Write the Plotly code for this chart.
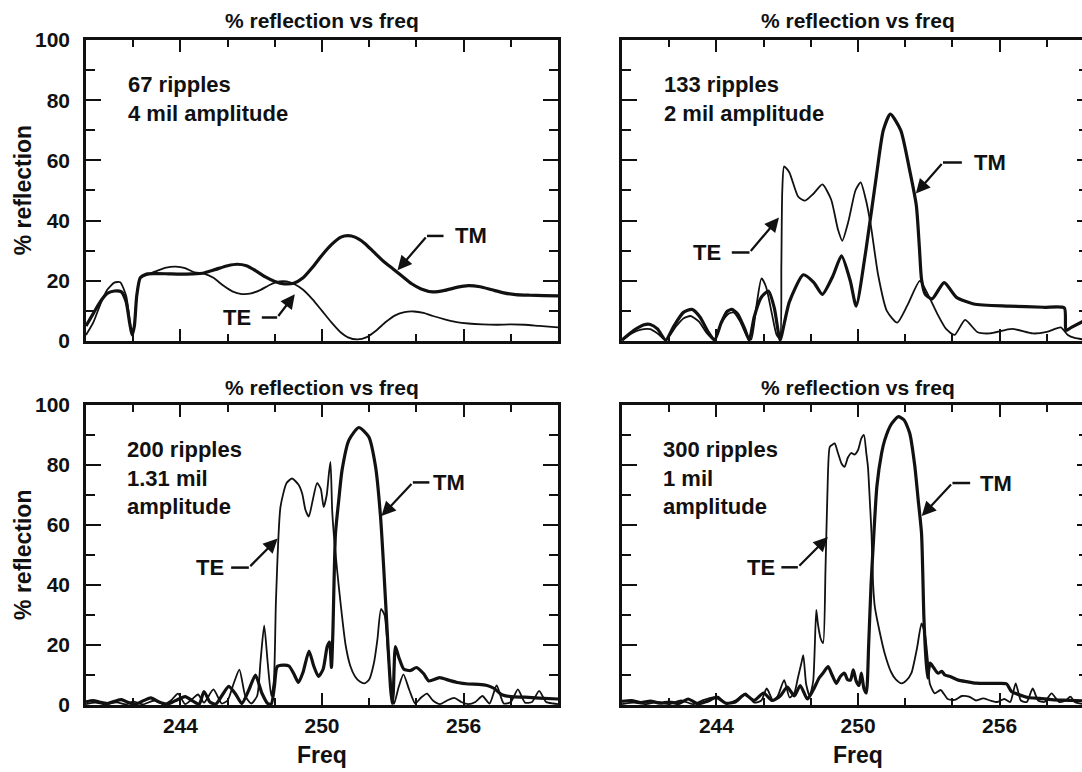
import plotly.graph_objects as go

# ---------------- data ----------------
# Panel 1: 67 ripples, 4 mil amplitude
p1_tm_x = [240.0, 240.3, 240.6, 240.9, 241.2, 241.5, 241.7, 241.85, 241.95, 242.05, 242.15, 242.3, 242.6,
           243.0, 243.5, 244.0, 244.5, 245.0, 245.5, 246.0, 246.4, 246.8, 247.2, 247.6, 248.0, 248.4,
           248.8, 249.2, 249.6, 250.0, 250.4, 250.8, 251.1, 251.4, 251.8, 252.2, 252.6, 253.0, 253.4,
           253.8, 254.2, 254.7, 255.2, 255.7, 256.2, 256.7, 257.2, 257.7, 258.2, 258.8, 259.4, 260.0]
p1_tm_y = [5, 9, 13, 15.8, 16.6, 16.3, 13, 6, 2, 5, 15, 21, 22.3,
           22.4, 22.3, 22.2, 22.3, 22.6, 23.8, 25, 25.5, 25, 23.3, 21.3, 19.8, 19,
           19.2, 21, 24.5, 28.5, 32, 34.5, 35, 34.5, 32.5, 29.5, 26.5, 24, 21.5,
           19, 17.3, 16.3, 16.8, 17.8, 18.4, 18, 17, 16, 15.4, 15.2, 15.1, 15]
p1_te_x = [240.0, 240.3, 240.6, 240.9, 241.2, 241.45, 241.7, 241.85, 241.95, 242.05, 242.15, 242.3, 242.6,
           243.0, 243.4, 243.8, 244.2, 244.6, 245.0, 245.4, 245.8, 246.2, 246.6, 247.0, 247.4, 247.8,
           248.2, 248.5, 248.8, 249.2, 249.6, 250.0, 250.4, 250.8, 251.1, 251.5, 251.9, 252.3, 252.7,
           253.1, 253.5, 253.9, 254.3, 254.7, 255.2, 255.7, 256.2, 256.8, 257.4, 258.0, 258.6, 259.2, 260.0]
p1_te_y = [2, 6, 12, 17, 19.4, 19.5, 15, 7, 2, 5, 15, 21, 22,
           23.3, 24.4, 24.7, 24.2, 22.8, 22.4, 21, 18.5, 16.5, 15.6, 15.8, 17, 18.7,
           19.8, 19.8, 19, 17, 13.8, 10, 6.2, 2.8, 1.2, 0.5, 1.3, 3.5, 6.3,
           8.5, 9.6, 9.8, 9.3, 8.3, 7.2, 6.3, 5.8, 5.5, 5.4, 5.5, 5.4, 5, 4.5]

# Panel 2: 133 ripples, 2 mil amplitude
p2_tm_x = [240.0, 240.5, 240.9, 241.2, 241.5, 241.85, 242.2, 242.6, 242.96, 243.3, 243.65, 243.92,
           244.2, 244.45, 244.65, 244.9, 245.2, 245.39, 245.6, 245.9, 246.2, 246.45, 246.62, 246.7,
           247.09, 247.68, 248.12, 248.49, 248.93, 249.3, 249.67,
           249.92, 250.33, 250.78, 251.07, 251.37, 251.81, 252.18, 252.47, 252.6, 252.69, 252.85, 253.14,
           253.65, 254.17, 254.9, 256.38, 257.86, 258.74, 258.81, 259.04, 259.55]
p2_tm_y = [0.3, 3.5, 5.3, 5.5, 4.0, 0.3, 5.0, 9.5, 10.5, 8.0, 3.0, 0.3,
           6.0, 9.8, 10.5, 9.0, 4.0, 0.3, 8.0, 14.5, 16.6, 11.0, 3.0, 0.3,
           13, 22, 19.5, 15.5, 21.5, 28.3, 20,
           11.6, 30, 55, 70, 75.4, 70, 57, 45, 31, 20.5, 15.5, 14,
           19.4, 14.5, 12.3, 11.6, 11.2, 11, 3.5, 4.5, 6.6]
p2_te_x = [240.0, 240.4, 240.8, 241.2, 241.55, 241.85, 242.3, 242.6, 242.9, 243.25, 243.6, 243.92,
           244.2, 244.5, 244.73, 245.0, 245.3, 245.47, 245.7, 245.91, 246.1, 246.35, 246.55, 246.69,
           246.75, 246.79, 246.87, 247.09, 247.46, 247.75, 248.12, 248.49,
           248.86, 249.15, 249.33, 249.6, 249.89, 250.11, 250.33, 250.55, 250.85, 251.22, 251.66, 252.1,
           252.62, 252.99, 253.36, 253.73, 254.09, 254.54, 255.05, 255.57, 256.53, 257.41, 258.0, 258.59,
           258.89, 259.18, 259.55]
p2_te_y = [0.3, 2.5, 3.8, 3.9, 2.2, 0.3, 5.0, 7.5, 8.3, 6.5, 2.5, 0.3,
           6.0, 9.0, 9.5, 6.5, 1.5, 0.5, 12.0, 20.8, 18.0, 9.0, 2.0, 0.8,
           25, 50, 58, 56, 48, 46.6, 49, 52,
           47, 37, 33.3, 40, 50, 52.7, 47, 38, 22, 10, 6.1, 12,
           20, 15, 9, 4, 2, 7, 3, 2.5, 4, 2.5, 3, 4.5,
           2, 1, 0.5]

# Panel 3: 200 ripples, 1.31 mil amplitude
p3_tm_x = [240.0, 240.3, 240.6, 240.9, 241.2, 241.5, 241.8, 242.1, 242.45, 242.75, 243.1, 243.45, 243.8,
           244.2, 244.55, 244.8, 245.0, 245.25, 245.5, 245.75, 246.05, 246.35, 246.6, 246.9, 247.18,
           247.45, 247.7, 247.85, 247.98, 248.1, 248.35, 248.6, 248.8, 249.0, 249.2, 249.45, 249.65,
           249.85, 250.05, 250.22, 250.32, 250.4, 250.46, 250.57, 250.71, 250.85, 251.14, 251.56, 251.98,
           252.27, 252.48, 252.62, 252.76, 252.9, 252.97, 253.02, 253.11, 253.25, 253.47, 253.75, 254.0,
           254.3, 254.53, 254.98, 255.4, 255.74, 256.2, 256.64, 257.0, 257.3, 257.6, 258.0, 258.6,
           259.2, 260.0]
p3_tm_y = [1.0, 1.5, 0.9, 0.5, 1.2, 1.8, 0.8, 0.3, 1.5, 2.4, 1.0, 0.3, 1.5,
           2.8, 1.2, 0.3, 4.5, 1.0, 0.3, 3.0, 6.2, 3.5, 0.5, 5.0, 10.0,
           4.0, 0.5, 0.3, 6.0, 12.8, 13.3, 13.0, 10.5, 7.5, 11.0, 18.0, 13.0,
           9.5, 12.0, 19.5, 21.0, 12.5, 24.0, 57.0, 68.3, 78.3, 88.3, 92.5, 89.4,
           79.4, 62.8, 45.0, 25.0, 6.0, 0.5, 4.0, 19.5, 16.0, 11.9, 11.5, 12.5,
           10.5, 8.0, 9.1, 8.2, 7.5, 7.0, 6.9, 6.5, 5.5, 3.5, 2.8, 2.6,
           2.3, 2.0]
p3_te_x = [240.0, 240.4, 240.8, 241.3, 241.7, 242.0, 242.4, 242.9, 243.3, 243.6, 243.9, 244.2, 244.5,
           244.75, 245.0, 245.4, 245.75, 246.0, 246.25, 246.5, 246.75, 247.0, 247.25, 247.4, 247.55,
           247.7, 247.85, 247.96, 248.05, 248.24, 248.5, 248.73, 249.0, 249.16, 249.3, 249.44, 249.6,
           249.79, 249.95, 250.07, 250.2, 250.29, 250.36, 250.43, 250.5, 250.64, 250.8, 251.0, 251.2,
           251.4, 251.6, 251.8, 252.0, 252.2, 252.35, 252.5, 252.65, 252.8, 252.95, 253.05, 253.25,
           253.45, 253.7, 253.95, 254.2, 254.45, 254.7, 255.0, 255.3, 255.6, 255.9, 256.2, 256.5,
           256.8, 257.1, 257.4, 257.7, 258.0, 258.3, 258.6, 258.9, 259.2, 259.5, 259.8, 260.0]
p3_te_y = [0.3, 0.8, 0.2, 0.9, 0.2, 1.2, 0.2, 1.5, 0.2, 1.5, 3.8, 0.3, 2.0,
           3.5, 0.8, 5.2, 0.5, 1.5, 7.0, 11.8, 3.0, 0.5, 3.0, 15.0, 26.5,
           14.0, 3.0, 8.0, 35.0, 66.0, 74.0, 75.5, 73.5, 70.5, 65.0, 62.8, 68.0,
           74.0, 72.0, 66.0, 70.0, 77.0, 81.0, 65.0, 57.0, 45.0, 33.0, 20.0, 13.0,
           9.5, 7.8, 7.2, 8.5, 14.0, 22.0, 32.0, 30.0, 17.0, 5.0, 0.3, 6.0,
           10.2, 5.0, 0.5, 2.5, 3.8, 1.5, 0.3, 1.5, 2.4, 1.0, 0.3, 1.0,
           3.0, 0.5, 6.5, 0.5, 1.0, 5.2, 0.8, 1.0, 4.7, 1.0, 0.5, 0.3]

# Panel 4: 300 ripples, 1 mil amplitude
p4_tm_x = [240.0, 240.4, 240.8, 241.2, 241.6, 242.0, 242.4, 242.8, 243.2, 243.6, 244.0, 244.4, 244.8,
           245.2, 245.6, 246.0, 246.35, 246.7, 247.0, 247.3, 247.55, 247.85, 248.1, 248.35, 248.55,
           248.73, 248.9, 249.08, 249.25, 249.43, 249.55, 249.68, 249.8, 249.92, 250.04, 250.14, 250.25,
           250.35, 250.45, 250.55, 250.64, 250.8, 251.0, 251.13, 251.4, 251.7, 251.95, 252.19, 252.4,
           252.55, 252.69, 252.79, 252.88, 252.95, 253.0, 253.06, 253.2, 253.39, 253.55, 253.68, 253.9,
           254.25, 254.6, 255.0, 255.5, 256.0, 256.3, 256.5, 256.8, 257.2, 257.7, 258.2, 258.7,
           259.2, 259.55]
p4_tm_y = [1.2, 1.5, 0.8, 1.3, 0.6, 1.0, 0.5, 2.0, 0.4, 1.2, 2.5, 0.6, 1.0,
           3.5, 1.5, 4.0, 1.5, 3.0, 6.0, 3.0, 6.5, 2.0, 5.0, 9.0, 11.0,
           12.8, 10.0, 7.2, 9.5, 10.6, 8.5, 8.3, 11.7, 8.0, 6.5, 10.6, 5.5,
           4.0, 20.0, 40.0, 52.8, 73.0, 84.0, 88.3, 93.5, 96.1, 95.0, 90.6, 80.0,
           68.3, 57.2, 29.4, 15.0, 9.0, 12.0, 14.0, 12.5, 10.6, 11.2, 10.0, 9.5,
           8.3, 7.8, 7.3, 7.2, 7.2, 7.0, 4.5, 3.5, 2.5, 2.2, 1.8, 1.6,
           1.5, 1.4]
p4_te_x = [240.0, 240.5, 241.0, 241.5, 242.0, 242.5, 243.0, 243.5, 244.06, 244.4, 244.8, 245.24, 245.6,
           245.9, 246.13, 246.4, 246.6, 246.87, 247.1, 247.3, 247.45, 247.6, 247.68, 247.8, 247.95,
           248.1, 248.23, 248.3, 248.42, 248.52, 248.62, 248.7, 248.8, 248.9, 249.01, 249.15, 249.3,
           249.43, 249.57, 249.71, 249.85, 250.0, 250.14, 250.25, 250.35, 250.42, 250.5, 250.57, 250.64,
           250.71, 250.9, 251.13, 251.4, 251.6, 251.84, 252.05, 252.26, 252.5, 252.69, 252.83, 252.97,
           253.04, 253.25, 253.5, 253.8, 254.1, 254.4, 254.7, 255.0, 255.3, 255.6, 255.9, 256.2,
           256.45, 256.68, 256.9, 257.15, 257.4, 257.63, 257.9, 258.2, 258.52, 258.8, 259.0, 259.18,
           259.4, 259.55]
p4_te_y = [0.3, 0.8, 0.3, 1.0, 0.3, 1.5, 0.3, 1.8, 2.8, 0.5, 1.5, 3.9, 0.8,
           1.5, 5.5, 1.5, 3.0, 8.3, 2.5, 4.0, 9.0, 14.0, 16.6, 7.0, 3.0,
           8.0, 31.7, 27.0, 22.0, 20.6, 45.0, 70.0, 86.0, 86.7, 87.2, 84.0, 80.5,
           79.4, 82.5, 84.0, 83.5, 85.0, 88.9, 90.0, 84.0, 79.4, 68.0, 57.2, 40.0,
           32.8, 25.0, 17.2, 11.0, 8.5, 7.2, 8.2, 10.6, 19.0, 27.2, 23.9, 13.9,
           7.2, 3.9, 5.0, 2.0, 1.7, 3.0, 2.8, 1.5, 2.2, 1.5, 1.0, 2.0,
           1.0, 7.2, 1.5, 1.0, 5.5, 1.5, 1.0, 3.9, 1.0, 1.5, 2.8, 1.0,
           0.5, 0.3]

panel_notes = ["67 ripples<br>4 mil amplitude",
               "133 ripples<br>2 mil amplitude",
               "200 ripples<br>1.31 mil<br>amplitude",
               "300 ripples<br>1 mil<br>amplitude"]
panel_title = "% reflection vs freq"
y_ticks = [0, 20, 40, 60, 80, 100]
x_ticks = [244, 250, 256]

# ---------------- figure ----------------
FONT = "Liberation Sans, Arial, Helvetica, sans-serif"
INK = "#111111"
fig = go.Figure()

panels = [
    (p1_tm_x, p1_tm_y, p1_te_x, p1_te_y, "x", "y"),
    (p2_tm_x, p2_tm_y, p2_te_x, p2_te_y, "x2", "y2"),
    (p3_tm_x, p3_tm_y, p3_te_x, p3_te_y, "x3", "y3"),
    (p4_tm_x, p4_tm_y, p4_te_x, p4_te_y, "x4", "y4"),
]
for tmx, tmy, tex, tey, xa, ya in panels:
    fig.add_trace(go.Scatter(x=tex, y=tey, mode="lines", xaxis=xa, yaxis=ya, name="TE",
                             line=dict(color=INK, width=1.8, shape="spline", smoothing=0.6),
                             showlegend=False, hoverinfo="skip"))
    fig.add_trace(go.Scatter(x=tmx, y=tmy, mode="lines", xaxis=xa, yaxis=ya, name="TM",
                             line=dict(color=INK, width=3.2, shape="spline", smoothing=0.6),
                             showlegend=False, hoverinfo="skip"))

# dummy traces so the right-edge tick overlays exist
fig.add_trace(go.Scatter(x=[None], y=[None], xaxis="x2", yaxis="y5", showlegend=False))
fig.add_trace(go.Scatter(x=[None], y=[None], xaxis="x4", yaxis="y6", showlegend=False))

XL = [0.0, 0.4739]
XR = [0.5382, 1.0]
YT = [0.5474, 1.0]
YB = [0.0, 0.4511]

tickfont = dict(family=FONT, size=21, color=INK, weight="bold")


def xax(domain, anchor, rng, labels):
    return dict(domain=domain, anchor=anchor, range=rng, showgrid=False, zeroline=False,
                showline=True, linecolor=INK, linewidth=2.5, mirror="ticks",
                ticks="inside", ticklen=12, tickwidth=2, tickcolor=INK,
                tickmode="array", tickvals=x_ticks, showticklabels=labels,
                tickfont=tickfont, ticklabelstandoff=0,
                minor=dict(ticks="inside", ticklen=7, tickwidth=1.5, tickcolor=INK,
                           tickmode="linear", tick0=240, dtick=2))


def yax(domain, anchor, labels, mirror):
    return dict(domain=domain, anchor=anchor, range=[0, 100], showgrid=False, zeroline=False,
                showline=True, linecolor=INK, linewidth=2.5, mirror=mirror,
                ticks="inside", ticklen=15, tickwidth=2, tickcolor=INK,
                tickmode="array", tickvals=y_ticks, showticklabels=labels,
                tickfont=tickfont, ticklabelstandoff=9,
                minor=dict(ticks="inside", ticklen=9, tickwidth=1.5, tickcolor=INK,
                           tickmode="linear", tick0=0, dtick=10))


def edge(over, anchor, domain):
    return dict(overlaying=over, anchor=anchor, side="right", range=[0, 100], domain=domain,
                showgrid=False, zeroline=False, showline=False, showticklabels=False,
                ticks="inside", ticklen=5, tickwidth=2, tickcolor=INK,
                tickmode="array", tickvals=y_ticks,
                minor=dict(ticks="inside", ticklen=3, tickwidth=1.5, tickcolor=INK,
                           tickmode="linear", tick0=0, dtick=10))


fig.update_layout(
    width=1082, height=772,
    margin=dict(l=86, r=0, t=40, b=67),
    paper_bgcolor="white", plot_bgcolor="white",
    font=dict(family=FONT, size=21, color=INK, weight="bold"),
    xaxis=xax(XL, "y", [240, 260], False),
    xaxis2=xax(XR, "y2", [240, 259.49], False),
    xaxis3=xax(XL, "y3", [240, 260], True),
    xaxis4=xax(XR, "y4", [240, 259.49], True),
    yaxis=yax(YT, "x", True, "ticks"),
    yaxis2=yax(YT, "x2", False, False),
    yaxis3=yax(YB, "x3", True, "ticks"),
    yaxis4=yax(YB, "x4", False, False),
    yaxis5=edge("y2", "x2", YT),
    yaxis6=edge("y4", "x4", YB),
)

afont = dict(family=FONT, size=22, color=INK, weight="bold")
tfont = dict(family=FONT, size=21, color=INK, weight="bold")
axfont = dict(family=FONT, size=23, color=INK, weight="bold")
ann = []
shapes = []

# panel titles, axis titles (paper coordinates)
for xc in (0.237, 0.775):
    ann.append(dict(text=panel_title, x=xc, y=1.029, xref="paper", yref="paper",
                    showarrow=False, font=tfont, xanchor="center", yanchor="middle"))
    ann.append(dict(text=panel_title, x=xc, y=0.477, xref="paper", yref="paper",
                    showarrow=False, font=tfont, xanchor="center", yanchor="middle"))
    ann.append(dict(text="Freq", x=xc, y=-0.075, xref="paper", yref="paper",
                    showarrow=False, font=axfont, xanchor="center", yanchor="middle"))
for yc in (0.774, 0.2256):
    ann.append(dict(text="% reflection", x=-0.0633, y=yc, xref="paper", yref="paper",
                    showarrow=False, textangle=-90, font=axfont,
                    xanchor="center", yanchor="middle"))

# panel notes
note_pos = [("x", "y", 241.7, 90.0), ("x2", "y2", 241.7, 90.0),
            ("x3", "y3", 241.65, 90.0), ("x4", "y4", 241.65, 90.0)]
for (xr, yr, nx, ny), txt in zip(note_pos, panel_notes):
    ann.append(dict(text=txt, x=nx, y=ny, xref=xr, yref=yr, showarrow=False, font=afont,
                    xanchor="left", yanchor="top", align="left"))

# TM / TE labels with bent leaders
leaders = [
    ("x", "y", "TM", 256.3, 34.9, 255.15, 254.45, 253.2, 23.5),
    ("x", "y", "TE", 246.4, 7.8, 247.45, 248.1, 248.85, 15.5),
    ("x2", "y2", "TM", 255.6, 59.3, 254.4, 253.6, 252.45, 49.0),
    ("x2", "y2", "TE", 243.6, 29.4, 244.65, 245.4, 246.65, 41.0),
    ("x3", "y3", "TM", 255.4, 74.2, 254.55, 253.85, 252.52, 63.0),
    ("x3", "y3", "TE", 245.25, 45.8, 246.15, 246.9, 248.12, 55.5),
    ("x4", "y4", "TM", 255.85, 74.0, 254.75, 254.0, 252.7, 63.0),
    ("x4", "y4", "TE", 245.9, 45.9, 246.75, 247.45, 248.72, 56.0),
]
for xr, yr, lab, tx, ty, h0, h1, px, py in leaders:
    ann.append(dict(text=lab, x=tx, y=ty, xref=xr, yref=yr, showarrow=False, font=afont,
                    xanchor="center", yanchor="middle"))
    shapes.append(dict(type="line", xref=xr, yref=yr, x0=h0, y0=ty, x1=h1, y1=ty,
                       line=dict(color=INK, width=2.5)))
    ann.append(dict(text="", x=px, y=py, xref=xr, yref=yr, ax=h1, ay=ty, axref=xr, ayref=yr,
                    showarrow=True, arrowhead=2, arrowsize=1.3, arrowwidth=2.2,
                    arrowcolor=INK, standoff=0, startstandoff=0))

fig.update_layout(annotations=ann, shapes=shapes)
fig.write_html("out.html")
